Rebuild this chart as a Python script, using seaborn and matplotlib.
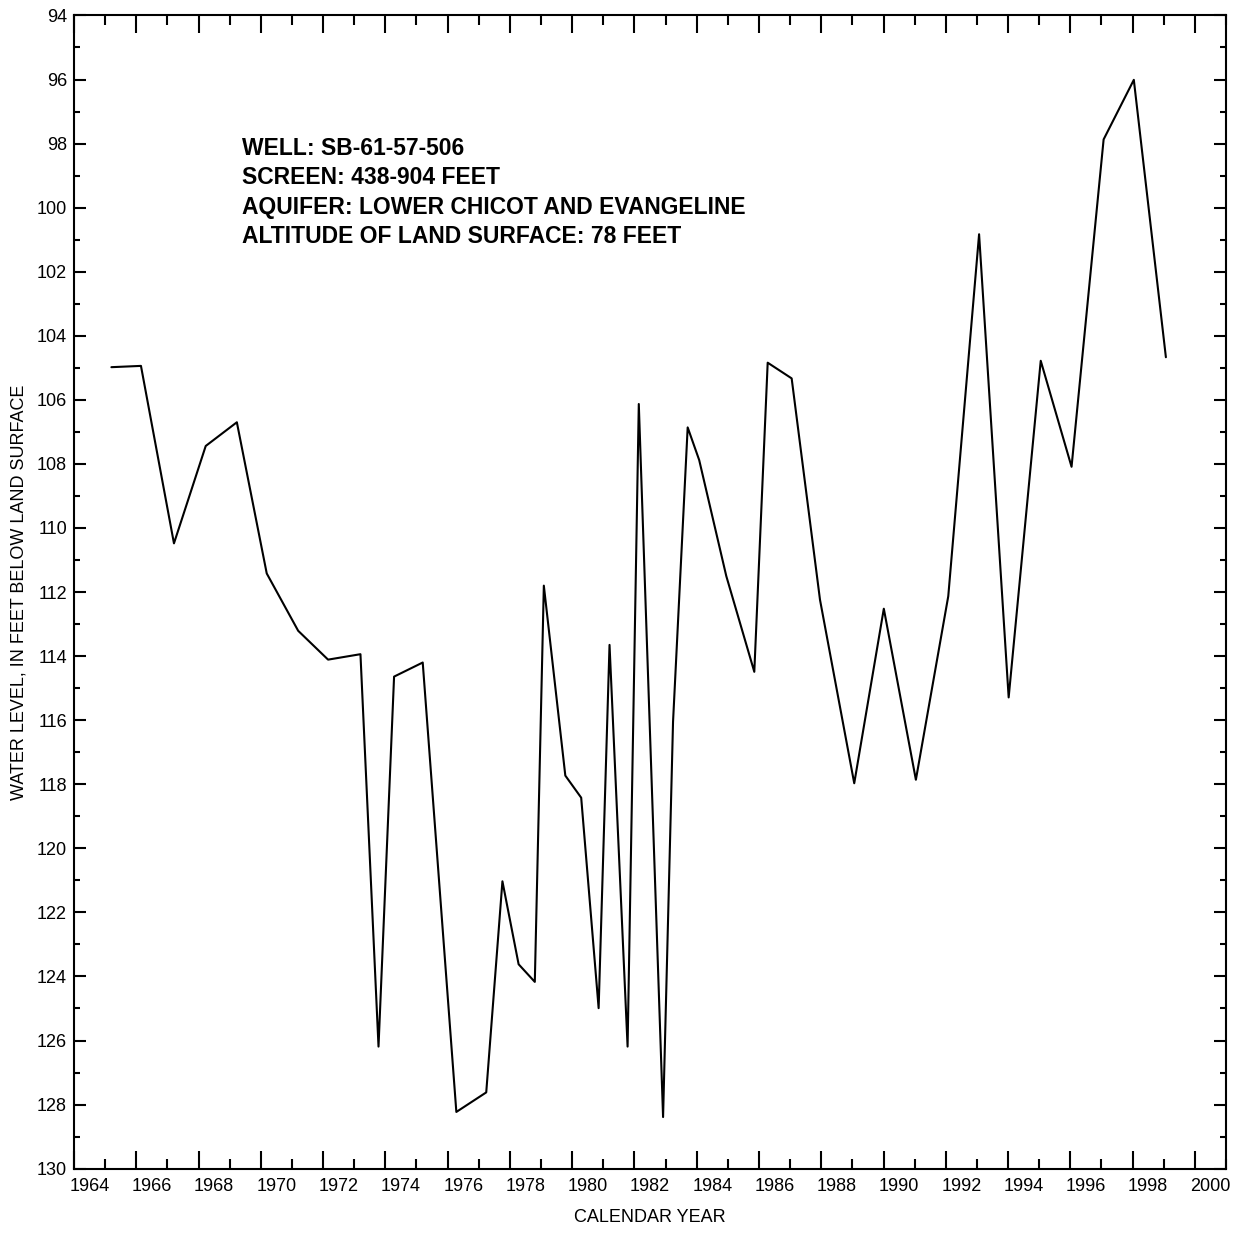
"""
Hydrograph of well SB-61-57-506: water level below land surface, 1965-1999.
"""

import matplotlib
matplotlib.use("Agg")
import matplotlib.pyplot as plt
from matplotlib.ticker import MultipleLocator
import seaborn as sns

# Decimal calendar year of each measurement
years = [1965.20, 1966.15, 1967.21, 1968.23, 1969.23, 1970.19, 1971.20, 1972.16,
         1973.20, 1973.78, 1974.28, 1975.20, 1976.28, 1977.24, 1977.76, 1978.28,
         1978.80, 1979.09, 1979.78, 1980.29, 1980.85, 1981.20, 1981.78, 1982.14,
         1982.92, 1983.24, 1983.71, 1984.08, 1984.95, 1985.85, 1986.28, 1987.05,
         1987.96, 1989.06, 1990.01, 1991.04, 1992.08, 1993.07, 1994.02, 1995.05,
         1996.04, 1997.07, 1998.04, 1999.07]

# Water level, in feet below land surface
levels = [104.98, 104.94, 110.48, 107.44, 106.70, 111.42, 113.21, 114.11,
          113.94, 126.19, 114.64, 114.20, 128.23, 127.62, 121.03, 123.62,
          124.17, 111.80, 117.73, 118.42, 124.99, 113.65, 126.19, 106.13,
          128.39, 116.05, 106.86, 107.88, 111.50, 114.49, 104.84, 105.33,
          112.24, 117.97, 112.52, 117.86, 112.13, 100.83, 115.29, 104.78,
          108.09, 97.87, 96.01, 104.67]

year_labels = list(range(1964, 2001, 2))

info_lines = [
    "WELL: SB-61-57-506",
    "SCREEN: 438-904 FEET",
    "AQUIFER: LOWER CHICOT AND EVANGELINE",
    "ALTITUDE OF LAND SURFACE: 78 FEET",
]

sns.set_style("white")
plt.rcParams["font.family"] = ["Liberation Sans", "DejaVu Sans"]
plt.rcParams["text.color"] = "black"
plt.rcParams["axes.labelcolor"] = "black"
plt.rcParams["xtick.color"] = "black"
plt.rcParams["ytick.color"] = "black"

fig = plt.figure(figsize=(12.42, 12.36), dpi=100)
ax = fig.add_axes([0.0596, 0.0545, 0.9275, 0.933])

sns.lineplot(x=years, y=levels, color="black", linewidth=1.5, ax=ax)

ax.set_xlim(1964, 2001)
ax.set_ylim(130, 94)

# x ticks: long at even years, short at odd years, labels centred on the year
ax.xaxis.set_major_locator(MultipleLocator(2))
ax.xaxis.set_minor_locator(MultipleLocator(1))
ax.tick_params(axis="x", which="both", direction="in", top=True, bottom=True,
               labelbottom=False, width=1.5, color="black")
ax.tick_params(axis="x", which="major", length=13)
ax.tick_params(axis="x", which="minor", length=7.5)
for yr in year_labels:
    ax.text(yr + 0.5, -0.0085, str(yr), transform=ax.get_xaxis_transform(),
            ha="center", va="top", fontsize=13, color="black")

ax.yaxis.set_major_locator(MultipleLocator(2))
ax.yaxis.set_minor_locator(MultipleLocator(1))
ax.tick_params(axis="y", which="both", direction="in", left=True, right=True,
               width=1.5, color="black", labelcolor="black", labelsize=13, pad=5)
ax.tick_params(axis="y", which="major", length=8.5)
ax.tick_params(axis="y", which="minor", length=4.5)

for spine in ax.spines.values():
    spine.set_linewidth(1.5)
    spine.set_color("black")

ax.set_xlabel("CALENDAR YEAR", fontsize=13, labelpad=29, color="black")
ax.set_ylabel("WATER LEVEL, IN FEET BELOW LAND SURFACE", fontsize=13,
              labelpad=7, color="black")

for i, line in enumerate(info_lines):
    ax.text(0.1458, 0.879 - i * 0.0254, line, transform=ax.transAxes,
            ha="left", va="baseline", fontsize=16.5, fontweight="bold",
            color="black")

fig.savefig("out.png", dpi=100)
